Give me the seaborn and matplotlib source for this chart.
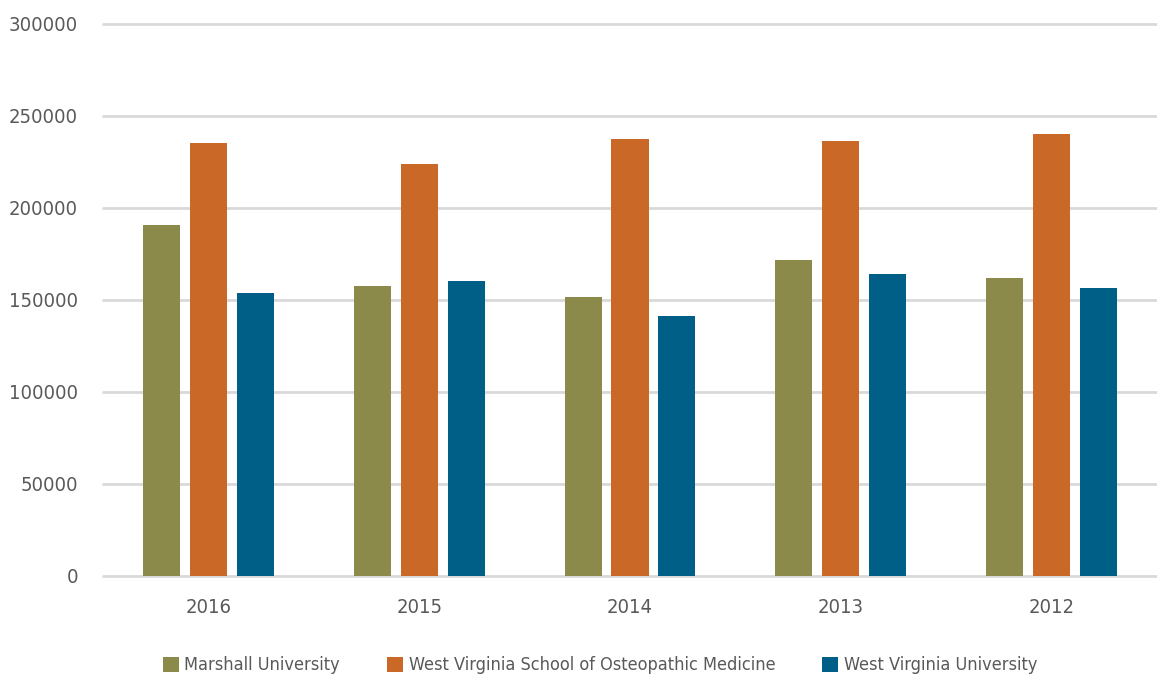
import pandas as pd
import seaborn as sns
import matplotlib.pyplot as plt

# values
years = ['2016', '2015', '2014', '2013', '2012']
marshall = [191000, 157500, 151500, 171500, 162000]
wvsom = [235300, 224000, 237500, 236500, 240300]
wvu = [154000, 160300, 141300, 164000, 156500]
schools = ['Marshall University', 'West Virginia School of Osteopathic Medicine', 'West Virginia University']
colors = ['#8B8A4A', '#CA6828', '#005F87']

df = pd.DataFrame({'year': years * 3,
                   'school': [s for s in schools for _ in years],
                   'value': marshall + wvsom + wvu})

sns.set_style('white')
plt.rcParams['font.family'] = ['DejaVu Sans']
plt.rcParams['font.stretch'] = 'condensed'
text_color = '#595959'

fig = plt.figure(figsize=(11.57, 6.79), dpi=100)
ax = fig.add_axes([0.089, 0.1517, 0.911, 0.813])

sns.barplot(data=df, x='year', y='value', hue='school', order=years, hue_order=schools,
            palette=colors, saturation=1, width=0.668, gap=0.21, ax=ax, legend=True,
            edgecolor='none', linewidth=0)

ax.set_ylim(0, 300000)
ax.set_yticks(range(0, 300001, 50000))
ax.set_yticklabels([str(v) for v in range(0, 300001, 50000)])
ax.set_xlim(-0.5, len(years) - 0.5)
ax.grid(axis='y', color='#d9d9d9', linewidth=2)
for line in ax.get_ygridlines():
    line.set_clip_on(False)
ax.set_axisbelow(True)
for s in ax.spines.values():
    s.set_visible(False)
ax.set_xlabel('')
ax.set_ylabel('')
ax.tick_params(axis='both', length=0, labelsize=14.5, colors=text_color)
ax.tick_params(axis='y', pad=18)
ax.tick_params(axis='x', pad=16)

handles, labels = ax.get_legend_handles_labels()
ax.legend_.remove()
fig.legend(handles, labels, loc='center', bbox_to_anchor=(0.5186, 0.02), ncol=3,
           frameon=False, fontsize=13.0, labelcolor=text_color, handlelength=0.9,
           handleheight=0.9, handletextpad=0.3, columnspacing=2.6)

fig.savefig('out.png', dpi=100)
